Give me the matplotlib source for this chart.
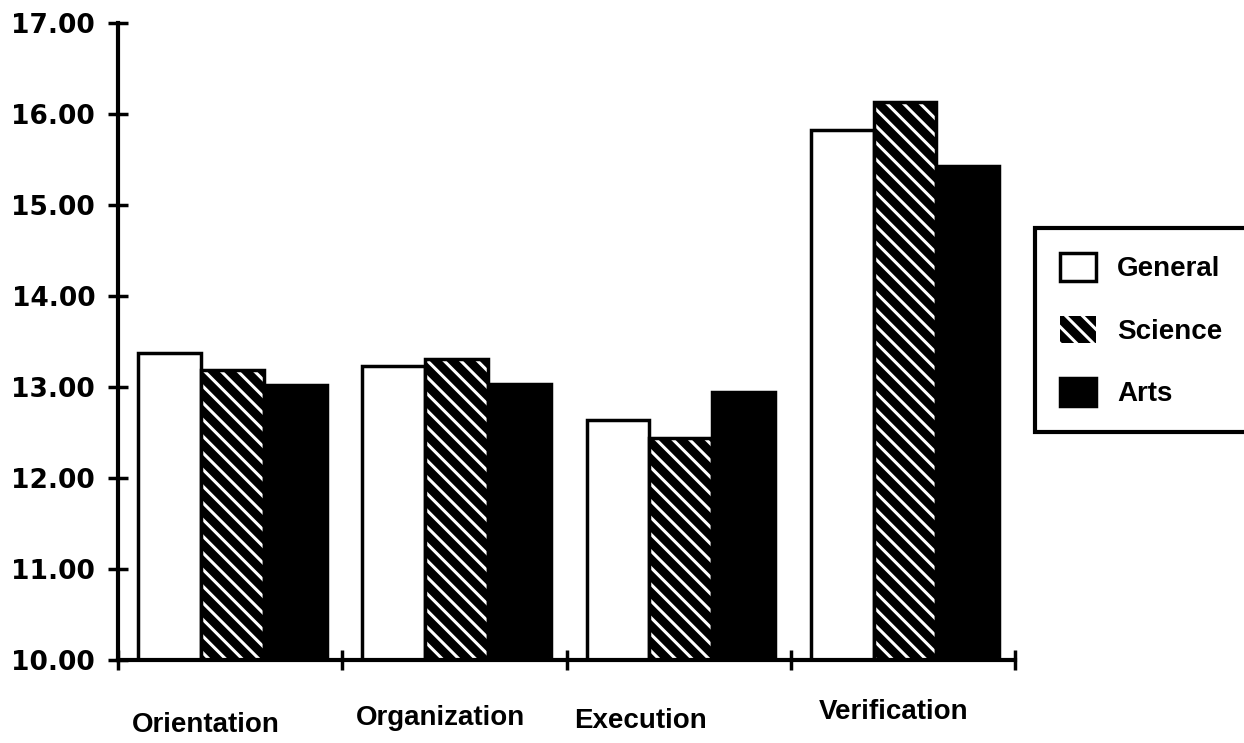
import matplotlib.pyplot as plt
import matplotlib.transforms as mtransforms
import numpy as np

categories = ["Orientation", "Organization", "Execution", "Verification"]
series = ["General", "Science", "Arts"]
general = [13.37, 13.23, 12.63, 15.82]
science = [13.18, 13.30, 12.44, 16.13]
arts = [13.02, 13.03, 12.94, 15.42]
yticks = [10, 11, 12, 13, 14, 15, 16, 17]

# layout only: label nudges (group units) and heights (axes fraction)
label_dx = [-0.11, -0.06, -0.17, -0.04]
label_y = [-0.102, -0.091, -0.096, -0.082]

plt.rcParams['hatch.linewidth'] = 2.2

fig = plt.figure(figsize=(12.44, 7.43), dpi=100)
ax = fig.add_axes([0.0949, 0.1117, 0.721, 0.858])

x = np.arange(len(categories))
w = 0.28
off = 0.01

ax.bar(x - w + off, general, w, color="white", edgecolor="black", linewidth=2.5, zorder=2)
# science: black fill with white hatch, then black outline on top
ax.bar(x + off, science, w, color="black", edgecolor="white", hatch="\\\\", linewidth=0, zorder=2)
ax.bar(x + off, science, w, color="none", edgecolor="black", linewidth=2.5, zorder=3)
ax.bar(x + w + off, arts, w, color="black", edgecolor="black", linewidth=2.5, zorder=2)

ax.set_xlim(-0.5, len(categories) - 0.5)
ax.set_ylim(10, 17)
ax.set_yticks(yticks)
ax.set_yticklabels(["%.2f" % t for t in yticks], fontsize=19, fontweight="bold", family="DejaVu Sans")
ax.set_xticks(np.arange(len(categories) + 1) - 0.5)
ax.set_xticklabels([])
ax.tick_params(axis="both", direction="inout", length=15, width=2.5, color="black")
ax.tick_params(axis="y", pad=9)

for s in ["top", "right"]:
    ax.spines[s].set_visible(False)
for s in ["left", "bottom"]:
    ax.spines[s].set_linewidth(3)

trans = mtransforms.blended_transform_factory(ax.transData, ax.transAxes)
for i, c in enumerate(categories):
    ax.text(i + label_dx[i], label_y[i], c, transform=trans, ha="center", va="center",
            fontsize=20, fontweight="bold", family="Liberation Sans")

# legend handles
h1 = plt.Rectangle((0, 0), 1, 1, facecolor="white", edgecolor="black", linewidth=2.5)
h2 = plt.Rectangle((0, 0), 1, 1, facecolor="black", edgecolor="white", hatch="\\\\", linewidth=0)
h3 = plt.Rectangle((0, 0), 1, 1, facecolor="black", edgecolor="black", linewidth=2.5)
leg = fig.legend([h1, h2, h3], series, loc="upper left", bbox_to_anchor=(0.832, 0.693),
                 fancybox=False, edgecolor="black", framealpha=1,
                 prop={"family": "Liberation Sans", "weight": "bold", "size": 20},
                 handlelength=1.3, handleheight=1.15, labelspacing=1.2, handletextpad=0.75,
                 borderpad=0.9, borderaxespad=0)
leg.get_frame().set_linewidth(3)

plt.savefig("out.png", dpi=100)
